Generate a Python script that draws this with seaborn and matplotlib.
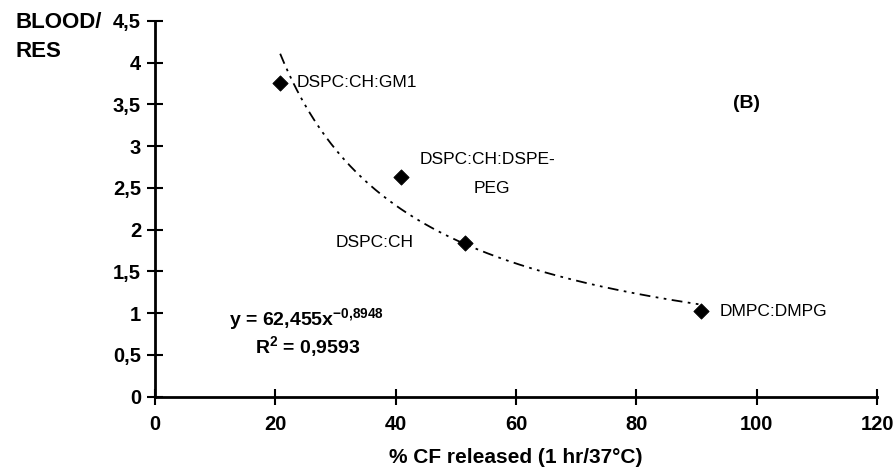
import numpy as np
import pandas as pd
import seaborn as sns
import matplotlib.pyplot as plt

# values
formulations = ["DSPC:CH:GM1", "DSPC:CH:DSPE-\nPEG", "DSPC:CH", "DMPC:DMPG"]
cf_released = [20.8, 40.9, 51.5, 90.8]
blood_res = [3.76, 2.63, 1.84, 1.02]
x_ticks = [0, 20, 40, 60, 80, 100, 120]
y_ticks = [0, 0.5, 1, 1.5, 2, 2.5, 3, 3.5, 4, 4.5]

df = pd.DataFrame({"formulation": formulations, "cf": cf_released, "ratio": blood_res})

sns.set_style("ticks")
plt.rcParams["font.family"] = ["Liberation Sans", "DejaVu Sans"]
plt.rcParams["text.color"] = "black"
plt.rcParams["mathtext.fontset"] = "custom"
plt.rcParams["mathtext.bf"] = "Liberation Sans:bold"
plt.rcParams["mathtext.rm"] = "Liberation Sans"

fig = plt.figure(figsize=(8.96, 4.75), dpi=100)
ax = fig.add_axes([0.173, 0.165, 0.806, 0.791])

# power trendline fitted in log-log space
k, logc = np.polyfit(np.log(df["cf"]), np.log(df["ratio"]), 1)
xs = np.linspace(df["cf"].min(), df["cf"].max(), 200)
trend = pd.DataFrame({"x": xs, "y": np.exp(logc) * xs ** k})
sns.lineplot(data=trend, x="x", y="y", ax=ax, color="black", lw=1.3,
             linestyle=(0, (6, 3, 1.5, 3, 1.5, 3)))

sns.scatterplot(data=df, x="cf", y="ratio", ax=ax, marker="D", color="black",
                s=60, edgecolor="black", zorder=3)

# point labels
first, second = formulations[1].split("\n")
ax.text(23.6, 3.76, formulations[0], fontsize=12.5, va="center", ha="left")
ax.text(43.9, 2.84, first, fontsize=12.5, va="center", ha="left")
ax.text(56.0, 2.49, second, fontsize=12.5, va="center", ha="center")
ax.text(43.0, 1.84, formulations[2], fontsize=12.5, va="center", ha="right")
ax.text(93.8, 1.02, formulations[3], fontsize=12.5, va="center", ha="left")

ax.text(98.3, 3.51, "(B)", fontsize=14, fontweight="bold", ha="center", va="center")
ax.text(25.1, 0.92, r"y = 62,455x$^{\mathbf{-0{,}8948}}$", fontsize=14,
        fontweight="bold", ha="center", va="center")
ax.text(25.3, 0.59, r"R$^{\mathbf{2}}$ = 0,9593", fontsize=14,
        fontweight="bold", ha="center", va="center")

ax.set_xlim(0, 120)
ax.set_ylim(0, 4.5)
ax.set_xticks(x_ticks)
ax.set_yticks(y_ticks)
ax.set_xticklabels([str(t) for t in x_ticks], fontweight="bold", fontsize=14.5)
ax.set_yticklabels([("%g" % t).replace(".", ",") for t in y_ticks],
                   fontweight="bold", fontsize=14.5)
ax.tick_params(axis="both", which="major", direction="inout", length=12,
               width=1.5, color="black", labelcolor="black", pad=4,
               bottom=True, left=True)
ax.tick_params(axis="x", pad=7)

ax.set_xlabel("% CF released (1 hr/37°C)", fontsize=15, fontweight="bold",
              labelpad=10, color="black")
ax.set_ylabel("")
fig.text(0.017, 0.922, "BLOOD/\nRES", fontsize=16, fontweight="bold",
         ha="left", va="center", linespacing=1.45)

sns.despine(ax=ax)
for side in ["left", "bottom"]:
    ax.spines[side].set_linewidth(2)
    ax.spines[side].set_color("black")

fig.savefig("out.png", dpi=100)
